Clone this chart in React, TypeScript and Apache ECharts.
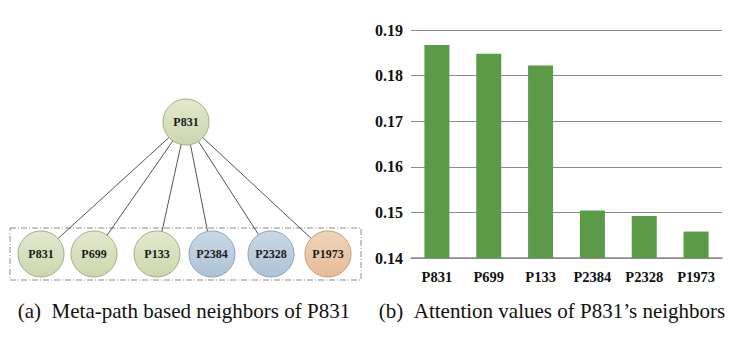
import React, { useEffect, useRef } from "react";
import * as echarts from "echarts";

const categories = ["P831", "P699", "P133", "P2384", "P2328", "P1973"];
const attention = [0.1867, 0.1848, 0.1822, 0.1504, 0.1492, 0.1458];
const yTicks = [0.14, 0.15, 0.16, 0.17, 0.18, 0.19];
const rootName = "P831";
const neighborTypes = ["green", "green", "green", "blue", "blue", "orange"];
const neighborX = [41, 94, 157, 212, 271, 328];
const captionA = "(a)\u00a0\u00a0Meta-path based neighbors of P831";
const captionB = "(b)\u00a0\u00a0Attention values of P831\u2019s neighbors";

const palette: Record<string, [string, string, string]> = {
  green: ["#e2e9cd", "#ccd7ad", "#a6ad8c"],
  blue: ["#cad8e5", "#aec3d7", "#90a3b5"],
  orange: ["#f2d4ba", "#e5bb97", "#bfa088"],
};

function nodeStyle(kind: string) {
  const [a, b, border] = palette[kind];
  return {
    color: new echarts.graphic.LinearGradient(0, 0, 0, 1, [
      { offset: 0, color: a },
      { offset: 1, color: b },
    ]),
    borderColor: border,
    borderWidth: 1,
  };
}

export default function App() {
  const ref = useRef<HTMLDivElement>(null);
  useEffect(() => {
    if (!ref.current) return;
    const chart = echarts.init(ref.current, null, { renderer: "svg" });
    const nodes: any[] = [
      { id: "root", name: rootName, value: [186, 122], itemStyle: nodeStyle("green") },
      ...categories.map((c, i) => ({
        id: "n" + i,
        name: c,
        value: [neighborX[i], 254],
        itemStyle: nodeStyle(neighborTypes[i]),
      })),
    ];
    const links = categories.map((_, i) => ({ source: "root", target: "n" + i }));
    const serif = "Times New Roman, Liberation Serif, serif";
    chart.setOption({
      animation: false,
      textStyle: { fontFamily: serif },
      grid: [
        { left: 0, top: 0, width: 370, height: 343 },
        { left: 411, top: 30, right: 17, bottom: 85 },
      ],
      xAxis: [
        { gridIndex: 0, type: "value", min: 0, max: 370, show: false },
        {
          gridIndex: 1,
          type: "category",
          data: categories,
          axisLine: { lineStyle: { color: "#8a8a8a", width: 1.5 } },
          axisTick: { alignWithLabel: false, length: 3, lineStyle: { color: "#bbbbbb" } },
          axisLabel: {
            color: "#111",
            fontFamily: serif,
            fontWeight: "bold",
            fontSize: 14.5,
            margin: 11,
          },
        },
      ],
      yAxis: [
        { gridIndex: 0, type: "value", min: 0, max: 343, inverse: true, show: false },
        {
          gridIndex: 1,
          type: "value",
          min: yTicks[0],
          max: yTicks[yTicks.length - 1],
          interval: 0.01,
          axisLine: { show: false },
          axisTick: { show: false },
          splitLine: { lineStyle: { color: "#8c8c8c", width: 1 } },
          axisLabel: {
            color: "#111",
            fontFamily: serif,
            fontWeight: "bold",
            fontSize: 16,
            margin: 8,
            formatter: (v: number) => v.toFixed(2),
          },
        },
      ],
      series: [
        {
          type: "graph",
          coordinateSystem: "cartesian2d",
          xAxisIndex: 0,
          yAxisIndex: 0,
          symbol: "circle",
          symbolSize: 46,
          data: nodes,
          links,
          lineStyle: { color: "#555", width: 1, opacity: 1 },
          label: {
            show: true,
            position: "inside",
            formatter: "{b}",
            fontFamily: serif,
            fontWeight: "bold",
            fontSize: 12,
            color: "#1a1a1a",
          },
          emphasis: { disabled: true },
          z: 3,
        },
        {
          type: "bar",
          xAxisIndex: 1,
          yAxisIndex: 1,
          data: attention,
          barWidth: 25,
          itemStyle: { color: "#5b9a46" },
        },
      ],
      graphic: [
        {
          type: "rect",
          shape: { x: 10, y: 228, width: 351, height: 52 },
          style: { fill: "none", stroke: "#8c8c8c", lineWidth: 1, lineDash: [6, 2, 1, 2] },
          z: 1,
        },
        {
          type: "text",
          x: 184,
          y: 311,
          style: {
            text: captionA,
            font: "21px " + serif,
            fill: "#111",
            textAlign: "center",
            textVerticalAlign: "middle",
          },
        },
        {
          type: "text",
          x: 552,
          y: 311,
          style: {
            text: captionB,
            font: "21px " + serif,
            fill: "#111",
            textAlign: "center",
            textVerticalAlign: "middle",
          },
        },
      ],
    });
    return () => chart.dispose();
  }, []);
  return (
    <div
      ref={ref}
      style={{ position: "absolute", left: 0, top: 0, width: 739, height: 343 }}
    />
  );
}
